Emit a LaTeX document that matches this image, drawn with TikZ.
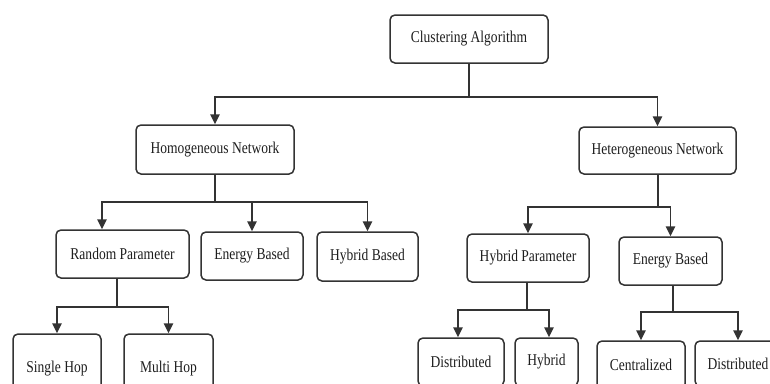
\documentclass[tikz,border=0pt]{standalone}
\usepackage{fontspec}
\setmainfont[FakeStretch=0.82]{Liberation Serif}
\usetikzlibrary{arrows.meta,calc}
\definecolor{ln}{HTML}{333333}
\definecolor{tx}{HTML}{1E1E1E}
\begin{document}
\begin{tikzpicture}[x=1pt,y=-1pt,
  box/.style={draw=ln,line width=1.5pt,rounded corners=5pt,fill=white,
    text=tx,font=\fontsize{16.5}{18}\selectfont,inner sep=0pt,
    minimum width=#1},
  line/.style={draw=ln,line width=1.5pt},
  arr/.style={line,-{Triangle[width=9.5pt,length=10pt]}}]
\useasboundingbox (0,0) rectangle (770,383);
\clip (0,0) rectangle (770,383);
% nodes
\node[box=158,minimum height=48] (CA) at (469,39) {Clustering Algorithm};
\node[box=158,minimum height=49] (HomN) at (215,149.5) {Homogeneous Network};
\node[box=157,minimum height=47] (HetN) at (657.5,150.5) {Heterogeneous Network};
\node[box=133,minimum height=48] (RP) at (122.5,254) {Random Parameter};
\node[box=102,minimum height=48] (EB1) at (252,256) {Energy Based};
\node[box=101,minimum height=49] (HB) at (367.5,256.5) {Hybrid Based};
\node[box=122,minimum height=48] (HP) at (528,258) {Hybrid Parameter};
\node[box=103,minimum height=48] (EB2) at (670.5,261) {Energy Based};
\node[box=88,minimum height=70] (SH) at (57,369) {Single Hop};
\node[box=89,minimum height=70] (MH) at (168.5,369) {Multi Hop};
\node[box=86,minimum height=48] (D1) at (461,362) {Distributed};
\node[box=63,minimum height=48] (Hy) at (546.5,362) {Hybrid};
\node[box=88,minimum height=48] (Ce) at (641,365) {Centralized};
\node[box=86,minimum height=45] (D2) at (738,363.5) {Distributed};
% junctions
\coordinate (caj) at (469,97);
\coordinate (hoj) at (215,202);
\coordinate (rpj) at (117,307);
\coordinate (hej) at (658,207);
\coordinate (hpj) at (527,310);
\coordinate (ebj) at (673,312);
% connectors
\draw[line] (CA.south) -- (caj);
\draw[arr] (caj) -| (HomN.north);
\draw[arr] (caj) -| (HetN.north);
\draw[line] (HomN.south) -- (hoj);
\draw[arr] (hoj) -| ($(RP.north)+(-20.5,0)$);
\draw[arr] (hoj) -| (EB1.north);
\draw[arr] (hoj) -| (HB.north);
\draw[line] (rpj |- RP.south) -- (rpj);
\draw[arr] (rpj) -| (SH.north);
\draw[arr] (rpj) -| (MH.north);
\draw[line] (hej |- HetN.south) -- (hej);
\draw[arr] (hej) -| (HP.north);
\draw[arr] (hej) -| (EB2.north);
\draw[line] (hpj |- HP.south) -- (hpj);
\draw[arr] (hpj) -| ($(D1.north)+(-3,0)$);
\draw[arr] (hpj) -| ($(Hy.north)+(2.5,0)$);
\draw[line] (ebj |- EB2.south) -- (ebj);
\draw[arr] (ebj) -| (Ce.north);
\draw[arr] (ebj) -| (D2.north);
\end{tikzpicture}
\end{document}
